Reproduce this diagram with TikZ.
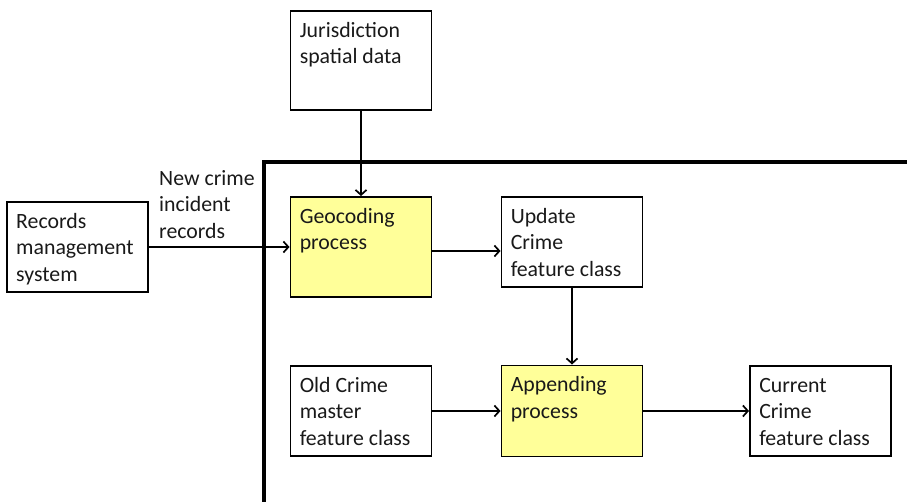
\documentclass[tikz,border=0pt]{standalone}
\usepackage{fontspec}
\setmainfont{Carlito}
\usetikzlibrary{arrows.meta}
\definecolor{procyellow}{HTML}{FFFF99}
\tikzset{
  boxbase/.style={draw=black, line width=1.9pt, minimum width=141pt, minimum height=90pt, inner sep=0pt},
  procbox/.style={boxbase, fill=procyellow},
  txt/.style={anchor=north west, inner sep=0pt, align=left, font=\fontsize{21.8}{26.5}\selectfont, text=black!90},
  arr/.style={line width=1.9pt, -{Straight Barb[length=5pt,width=11pt,line width=1.7pt]}},
  wall/.style={line width=3.2pt}
}
\newcommand{\bx}[1]{\strut #1}
\begin{document}
\begin{tikzpicture}[x=1pt,y=-1pt]
\useasboundingbox (0,0) rectangle (907,502);
% wall
\coordinate (w1) at (264,502);
\coordinate (w2) at (264,162);
\coordinate (w3) at (907,162);
\draw[wall] (w1) -- (w2) -- (w3);
% boxes
\node[boxbase, minimum height=99pt] (jur) at (361,60.5) {};
\node[boxbase] (rec) at (77.5,247) {};
\node[procbox, minimum height=100pt] (geo) at (361,247) {};
\node[boxbase] (upd) at (572,242) {};
\node[boxbase] (old) at (361,411) {};
\node[procbox, minimum height=91pt] (app) at (572,411) {};
\node[boxbase] (cur) at (820.5,411) {};
% texts
\node[txt] (tjur) at ([shift={(10,8.5)}]jur.north west) {\bx{Jurisdiction}\\\bx{spatial data}};
\node[txt] (trec) at ([shift={(10,8.5)}]rec.north west) {\bx{Records}\\\bx{management}\\\bx{system}};
\node[txt] (tgeo) at ([shift={(10,8.5)}]geo.north west) {\bx{Geocoding}\\\bx{process}};
\node[txt] (tupd) at ([shift={(10,8.5)}]upd.north west) {\bx{Update}\\\bx{Crime}\\\bx{feature class}};
\node[txt] (told) at ([shift={(10,8.5)}]old.north west) {\bx{Old Crime}\\\bx{master}\\\bx{feature class}};
\node[txt] (tapp) at ([shift={(10,8.5)}]app.north west) {\bx{Appending}\\\bx{process}};
\node[txt] (tcur) at ([shift={(10,8.5)}]cur.north west) {\bx{Current}\\\bx{Crime}\\\bx{feature class}};
\node[txt] (lbl) at (159,166.5) {\bx{New crime}\\\bx{incident}\\\bx{records}};
% connectors
\draw[arr] (jur.south) -- (jur.south |- geo.north);
\draw[arr] (rec.east) -- (geo.west);
\draw[arr] ([yshift=-4pt]geo.east) -- ([yshift=-4pt]geo.east -| upd.west);
\draw[arr] (upd.south) -- (app.north);
\draw[arr] (old.east) -- (old.east -| app.west);
\draw[arr] (app.east) -- (app.east -| cur.west);
\end{tikzpicture}
\end{document}
